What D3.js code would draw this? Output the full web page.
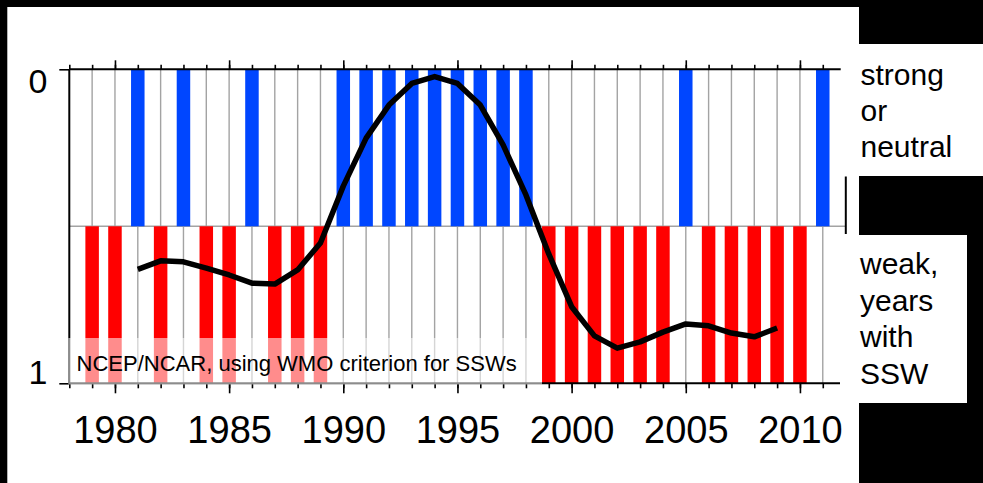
<!DOCTYPE html>
<html>
<head>
<meta charset="utf-8">
<script src="https://cdn.jsdelivr.net/npm/d3@7"></script>
<style>
body{margin:0;background:#000;}
svg{display:block;}
text{font-family:"Liberation Sans",Arial,Helvetica,sans-serif;fill:#000;}
</style>
</head>
<body>
<div id="chart"></div>
<script>
// winters, 1 = weak vortex / SSW year (red), 0 = strong or neutral (blue)
var years = [1979,1980,1981,1982,1983,1984,1985,1986,1987,1988,1989,1990,1991,1992,1993,1994,1995,
             1996,1997,1998,1999,2000,2001,2002,2003,2004,2005,2006,2007,2008,2009,2010,2011];
var weak  = [1,1,0,1,0,1,1,0,1,1,1,0,0,0,0,0,0,
             0,0,0,1,1,1,1,1,1,0,1,1,1,1,1,0];

// smoothed fraction (black curve)
var curveYears  = [1981,1982,1983,1984,1985,1986,1987,1988,1989,1990,1991,1992,1993,1994,1995,
                   1996,1997,1998,1999,2000,2001,2002,2003,2004,2005,2006,2007,2008,2009];
var curveValues = [0.637,0.610,0.613,0.633,0.655,0.681,0.684,0.639,0.553,0.372,0.219,0.114,0.045,0.023,0.045,
                   0.114,0.241,0.400,0.588,0.756,0.849,0.888,0.868,0.837,0.811,0.817,0.840,0.852,0.824];

var allTicks   = [1978,1979,1980,1981,1982,1983,1984,1985,1986,1987,1988,1989,1990,1991,1992,1993,1994,
                  1995,1996,1997,1998,1999,2000,2001,2002,2003,2004,2005,2006,2007,2008,2009,2010,2011];
var majorTicks = [1980,1985,1990,1995,2000,2005,2010];
var yTicks = [0, 1];
var topNote = ["strong","or","neutral"];
var bottomNote = ["weak,","years","with","SSW"];
var boxLabel = "NCEP/NCAR, using WMO criterion for SSWs";

var W = 983, H = 483;
var svg = d3.select("#chart").append("svg")
  .attr("width", W).attr("height", H);

// background pieces (the figure is a composite on black)
svg.append("rect").attr("x",0).attr("y",0).attr("width",W).attr("height",H).attr("fill","#000");
svg.append("rect").attr("x",7.3).attr("y",7).attr("width",859-7.3).attr("height",H-7).attr("fill","#fff");
svg.append("rect").attr("x",859).attr("y",44).attr("width",W-859).attr("height",176-44).attr("fill","#fff");
svg.append("rect").attr("x",859).attr("y",235).attr("width",967-859).attr("height",403-235).attr("fill","#fff");

var x = d3.scaleLinear().domain([1978, 2012]).range([69.3, 845.6]);
var y = d3.scaleLinear().domain([0, 1]).range([69.3, 383.3]);

var bw = 13.5;
var grey = "#a3a3a3";

// grid
svg.append("g").selectAll("line")
  .data(years)
  .join("line")
  .attr("x1", d => x(d)).attr("x2", d => x(d))
  .attr("y1", y(0)).attr("y2", y(1))
  .attr("stroke", grey).attr("stroke-width", 1.4);

svg.append("line")
  .attr("x1", x(1978)).attr("x2", 845)
  .attr("y1", y(0.5)).attr("y2", y(0.5))
  .attr("stroke", grey).attr("stroke-width", 1.4);

// bars
var bars = years.map((d,i) => ({year:d, weak:weak[i]}));
svg.append("g").selectAll("rect")
  .data(bars)
  .join("rect")
  .attr("x", d => x(d.year) - bw/2)
  .attr("width", bw)
  .attr("y", d => d.weak ? y(0.5) : y(0))
  .attr("height", d => d.weak ? y(1) - y(0.5) : y(0.5) - y(0))
  .attr("fill", d => d.weak ? "#ff0000" : "#0046ff");

// axes
function tickStyle(g){
  g.select(".domain").remove();
  g.selectAll(".tick line").attr("stroke","#000").attr("stroke-width",1.6);
}

svg.append("g").attr("transform","translate(0,"+y(0)+")")
  .call(d3.axisTop(x).tickValues(allTicks).tickSize(4.5).tickFormat(""))
  .call(tickStyle);
svg.append("g").attr("transform","translate(0,"+y(0)+")")
  .call(d3.axisTop(x).tickValues(majorTicks).tickSize(9).tickFormat(""))
  .call(tickStyle);

svg.append("g").attr("transform","translate(0,"+y(1)+")")
  .call(d3.axisBottom(x).tickValues(allTicks).tickSize(5).tickFormat(""))
  .call(tickStyle);
var xb = svg.append("g").attr("transform","translate(0,"+y(1)+")")
  .call(d3.axisBottom(x).tickValues(majorTicks).tickSize(10).tickFormat(d3.format("d")))
  .call(tickStyle);
xb.selectAll(".tick text")
  .attr("y", 59.4).attr("dy", 0)
  .attr("font-size", 38)
  .attr("font-family", '"Liberation Sans",Arial,Helvetica,sans-serif')
  .attr("fill", "#000");

var yl = svg.append("g").attr("transform","translate("+x(1978)+",0)")
  .call(d3.axisLeft(y).tickValues(yTicks).tickSize(10).tickFormat(d3.format("d")))
  .call(tickStyle);
yl.selectAll(".tick text")
  .attr("x", -31.3)
  .attr("y", d => d === 0 ? 23 : 0)
  .attr("dy", 0)
  .attr("text-anchor", "middle")
  .attr("font-size", 34)
  .attr("font-family", '"Liberation Sans",Arial,Helvetica,sans-serif')
  .attr("fill", "#000");

// frame lines
svg.append("line").attr("x1",x(1978)).attr("x2",840.7).attr("y1",y(0)).attr("y2",y(0))
  .attr("stroke","#000").attr("stroke-width",2);
svg.append("line").attr("x1",x(1978)).attr("x2",840).attr("y1",y(1)).attr("y2",y(1))
  .attr("stroke","#000").attr("stroke-width",2);
svg.append("line").attr("x1",x(1978)).attr("x2",x(1978)).attr("y1",y(0)).attr("y2",y(1))
  .attr("stroke","#000").attr("stroke-width",2);
svg.append("line").attr("x1",845.8).attr("x2",845.8).attr("y1",176.5).attr("y2",234)
  .attr("stroke","#000").attr("stroke-width",2);

// curve
var pts = curveYears.map((d,i) => [d, curveValues[i]]);
svg.append("path")
  .datum(pts)
  .attr("fill","none")
  .attr("stroke","#000")
  .attr("stroke-width",5.5)
  .attr("stroke-linejoin","round")
  .attr("stroke-linecap","butt")
  .attr("d", d3.line().x(d => x(d[0])).y(d => y(d[1])));

// label box
svg.append("rect")
  .attr("x", 68.3).attr("y", 338)
  .attr("width", 542 - 68.3).attr("height", 46.5)
  .attr("fill", "#fff").attr("fill-opacity", 0.55);
svg.append("text")
  .attr("x", 76.6).attr("y", 370.7)
  .attr("font-size", 22)
  .text(boxLabel);

// right-hand notes
svg.append("g").selectAll("text")
  .data(topNote)
  .join("text")
  .attr("x", 860.5)
  .attr("y", (d,i) => 85 + i*36.2)
  .attr("font-size", 30)
  .text(d => d);

svg.append("g").selectAll("text")
  .data(bottomNote)
  .join("text")
  .attr("x", 860)
  .attr("y", (d,i) => 274 + i*36.6)
  .attr("font-size", 30)
  .text(d => d);
</script>
</body>
</html>
